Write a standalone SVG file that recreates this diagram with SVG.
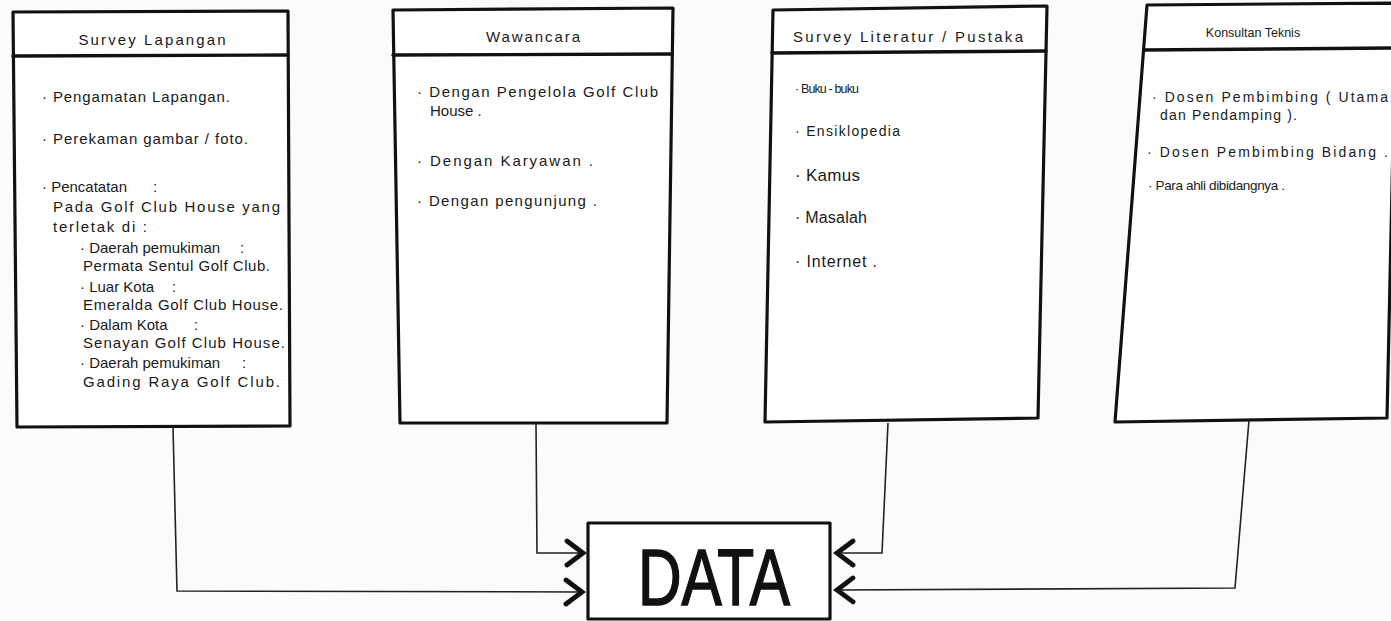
<svg xmlns="http://www.w3.org/2000/svg" width="1391" height="621" viewBox="0 0 1391 621">
  <style>
    .frame { fill: #ffffff; stroke: #111111; stroke-width: 3.2; stroke-linejoin: round; }
    .rule { fill: none; stroke: #111111; stroke-width: 3.4; stroke-linecap: round; }
    .link { fill: none; stroke: #222222; stroke-width: 1.6; stroke-linejoin: miter; }
    .hand { font-family: "Liberation Sans", Arial, sans-serif; fill: #1a1a1a; }
    .t15 { font-size: 15px; }
    .t14 { font-size: 14px; }
    .title { font-size: 15px; text-anchor: middle; }
    .big { font-family: "Liberation Sans", Arial, sans-serif; font-size: 80px; fill: #111111; stroke: #111111; stroke-width: 1.6; }
  </style>
  <defs>
    <!-- hand-drawn chevron arrowhead -->
    <marker id="chev" markerUnits="userSpaceOnUse" markerWidth="26" markerHeight="32" refX="20" refY="15" orient="auto">
      <path d="M4,3 L20,15 L4,27" fill="none" stroke="#111111" stroke-width="4.8" stroke-linejoin="miter" stroke-linecap="round"/>
    </marker>
  </defs>

  <rect x="0" y="0" width="1391" height="621" fill="#fbfbfa"/>

  <!-- Survey Lapangan -->
  <g id="survey-lapangan" class="hand">
    <polygon class="frame" points="13,12 288,11 290,426 17,427"/>
    <line class="rule" x1="13" y1="56" x2="288" y2="55"/>
    <text class="title" x="152" y="45" textLength="147">Survey Lapangan</text>
    <g class="t15">
      <text x="42" y="102" textLength="188">· Pengamatan Lapangan.</text>
      <text x="42" y="144" textLength="206">· Perekaman gambar / foto.</text>
      <text x="42" y="192">· Pencatatan<tspan x="153">:</tspan></text>
      <text x="53" y="212" textLength="227">Pada Golf Club House yang</text>
      <text x="53" y="232" textLength="94">terletak di :</text>
      <text x="80" y="253">· Daerah pemukiman<tspan x="240">:</tspan></text>
      <text x="83" y="271" textLength="187">Permata Sentul Golf Club.</text>
      <text x="80" y="292">· Luar Kota<tspan x="172">:</tspan></text>
      <text x="83" y="310" textLength="200">Emeralda Golf Club House.</text>
      <text x="80" y="330">· Dalam Kota<tspan x="194">:</tspan></text>
      <text x="83" y="348" textLength="202">Senayan Golf Club House.</text>
      <text x="80" y="368">· Daerah pemukiman<tspan x="242">:</tspan></text>
      <text x="83" y="387" textLength="197">Gading Raya Golf Club.</text>
    </g>
  </g>

  <!-- Wawancara -->
  <g id="wawancara" class="hand">
    <polygon class="frame" points="393,10 673,8 667,423 400,423"/>
    <line class="rule" x1="393" y1="55" x2="672" y2="54"/>
    <text class="title" x="533" y="42" textLength="94">Wawancara</text>
    <g class="t15">
      <text x="417" y="97" textLength="241">· Dengan Pengelola Golf Club</text>
      <text x="430" y="116">House .</text>
      <text x="417" y="166" textLength="176">· Dengan Karyawan .</text>
      <text x="417" y="206" textLength="180">· Dengan pengunjung .</text>
    </g>
  </g>

  <!-- Survey Literatur / Pustaka -->
  <g id="survey-literatur" class="hand">
    <polygon class="frame" points="773,10 1047,6 1038,418 765,422"/>
    <line class="rule" x1="772" y1="53" x2="1046" y2="51"/>
    <text class="title" x="908" y="42" textLength="230">Survey Literatur / Pustaka</text>
    <text x="795" y="93" font-size="12.5" textLength="64">· Buku - buku</text>
    <text x="795" y="136" font-size="14" textLength="105">· Ensiklopedia</text>
    <text x="795" y="181" font-size="17" textLength="65">· Kamus</text>
    <text x="795" y="223" font-size="16" textLength="72">· Masalah</text>
    <text x="795" y="267" font-size="16" textLength="82">· Internet .</text>
  </g>

  <!-- Konsultan Teknis -->
  <g id="konsultan-teknis" class="hand">
    <polygon class="frame" points="1147,5 1396,3 1387,418 1115,422"/>
    <line class="rule" x1="1144" y1="50" x2="1396" y2="48"/>
    <text x="1253" y="37" font-size="12.5" text-anchor="middle">Konsultan Teknis</text>
    <g class="t14">
      <text x="1152" y="102" textLength="236">· Dosen Pembimbing ( Utama</text>
      <text x="1160" y="120" textLength="137">dan Pendamping ).</text>
      <text x="1147" y="157" textLength="241">· Dosen Pembimbing Bidang .</text>
      <text x="1148" y="190" font-size="13.5" textLength="137">· Para ahli dibidangnya .</text>
    </g>
  </g>

  <!-- DATA -->
  <g id="data">
    <rect class="frame" x="588" y="523" width="242" height="96" stroke-width="4"/>
    <text class="big" x="638" y="605" textLength="152" lengthAdjust="spacingAndGlyphs">DATA</text>
  </g>

  <!-- connectors -->
  <g id="connectors">
    <polyline class="link" points="173,427 177,591 582,592" marker-end="url(#chev)"/>
    <polyline class="link" points="536,423 537,553 583,553" marker-end="url(#chev)"/>
    <polyline class="link" points="888,423 882,553 837,553" marker-end="url(#chev)"/>
    <polyline class="link" points="1249,420 1235,588 837,590" marker-end="url(#chev)"/>
  </g>
</svg>
